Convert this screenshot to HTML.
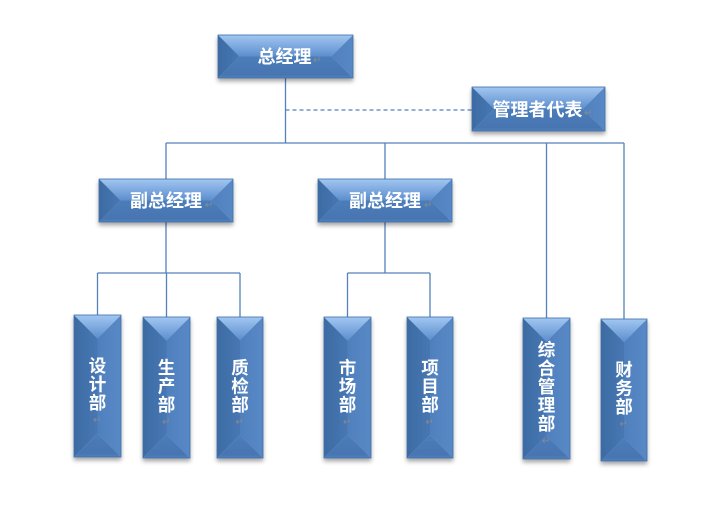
<!DOCTYPE html>
<html>
<head>
<meta charset="utf-8">
<style>
html,body{margin:0;padding:0;background:#fff;}
svg{display:block;}
.t{font-family:"Liberation Sans","Noto Sans CJK SC",sans-serif;font-weight:bold;fill:#fff;text-anchor:middle;}
.h{font-size:18px;}
.v{font-size:17.5px;}
.m{font-family:"DejaVu Sans",sans-serif;font-size:10px;fill:#8a8a8a;}
</style>
</head>
<body>
<svg width="712" height="515" viewBox="0 0 712 515" xmlns="http://www.w3.org/2000/svg">
<defs>
  <filter id="sh" x="-20%" y="-20%" width="140%" height="140%">
    <feDropShadow dx="0" dy="3" stdDeviation="2" flood-color="#000" flood-opacity="0.35"/>
  </filter>
  <linearGradient id="gt" x1="0" y1="0" x2="0" y2="1">
    <stop offset="0" stop-color="#a2c7f2"/>
    <stop offset="1" stop-color="#5c8ecd"/>
  </linearGradient>
  <linearGradient id="gl" x1="0" y1="0" x2="1" y2="0">
    <stop offset="0" stop-color="#3d6ba3"/>
    <stop offset="1" stop-color="#4777b3"/>
  </linearGradient>
  <linearGradient id="gr" x1="0" y1="0" x2="1" y2="0">
    <stop offset="0" stop-color="#4f80bd"/>
    <stop offset="1" stop-color="#5889c6"/>
  </linearGradient>
  <linearGradient id="gb" x1="0" y1="0" x2="0" y2="1">
    <stop offset="0" stop-color="#4c7dba"/>
    <stop offset="0.85" stop-color="#4675b1"/>
    <stop offset="1" stop-color="#5283c0"/>
  </linearGradient>
</defs>

<!-- connectors -->
<g stroke="#5581bb" stroke-width="1.3" fill="none">
  <line x1="285.5" y1="78" x2="285.5" y2="143"/>
  <line x1="166" y1="143" x2="624" y2="143"/>
  <line x1="166" y1="143" x2="166" y2="179"/>
  <line x1="385" y1="143" x2="385" y2="179"/>
  <line x1="546.5" y1="143" x2="546.5" y2="318"/>
  <line x1="624" y1="143" x2="624" y2="319"/>
  <line x1="166" y1="222" x2="166" y2="273"/>
  <line x1="97.5" y1="273" x2="240" y2="273"/>
  <line x1="97.5" y1="273" x2="97.5" y2="315"/>
  <line x1="166.5" y1="273" x2="166.5" y2="317"/>
  <line x1="240" y1="273" x2="240" y2="317"/>
  <line x1="385" y1="222" x2="385" y2="273"/>
  <line x1="347.5" y1="273" x2="430" y2="273"/>
  <line x1="347.5" y1="273" x2="347.5" y2="317"/>
  <line x1="430" y1="273" x2="430" y2="317"/>
  <line x1="285.5" y1="110" x2="472" y2="110" stroke-dasharray="4 3"/>
</g>

<!-- 总经理 -->
<g filter="url(#sh)">
  <polygon points="218,78 353,78 331.5,56.5 239.5,56.5" fill="url(#gb)"/>
  <polygon points="218,35 353,35 331.5,56.5 239.5,56.5" fill="url(#gt)"/>
  <polygon points="218,35 239.5,56.5 218,78" fill="url(#gl)"/>
  <polygon points="353,35 331.5,56.5 353,78" fill="url(#gr)"/>
  <rect x="218" y="35" width="135" height="43" fill="none" stroke="#406fa8" stroke-width="0.8"/>
</g>
<text class="t h" x="284.5" y="63">总经理</text>
<text class="m" x="313" y="63">↵</text>

<!-- 管理者代表 -->
<g filter="url(#sh)">
  <polygon points="472,131 605,131 583,109 494,109" fill="url(#gb)"/>
  <polygon points="472,87 605,87 583,109 494,109" fill="url(#gt)"/>
  <polygon points="472,87 494,109 472,131" fill="url(#gl)"/>
  <polygon points="605,87 583,109 605,131" fill="url(#gr)"/>
  <rect x="472" y="87" width="133" height="44" fill="none" stroke="#406fa8" stroke-width="0.8"/>
</g>
<text class="t h" x="537.5" y="116">管理者代表</text>
<text class="m" x="584" y="116">↵</text>

<!-- 副总经理 1 -->
<g filter="url(#sh)">
  <polygon points="99,222 233,222 211.5,200.5 120.5,200.5" fill="url(#gb)"/>
  <polygon points="99,179 233,179 211.5,200.5 120.5,200.5" fill="url(#gt)"/>
  <polygon points="99,179 120.5,200.5 99,222" fill="url(#gl)"/>
  <polygon points="233,179 211.5,200.5 233,222" fill="url(#gr)"/>
  <rect x="99" y="179" width="134" height="43" fill="none" stroke="#406fa8" stroke-width="0.8"/>
</g>
<text class="t h" x="166" y="207">副总经理</text>
<text class="m" x="205" y="208">↵</text>

<!-- 副总经理 2 -->
<g filter="url(#sh)">
  <polygon points="318,222 452,222 430.5,200.5 339.5,200.5" fill="url(#gb)"/>
  <polygon points="318,179 452,179 430.5,200.5 339.5,200.5" fill="url(#gt)"/>
  <polygon points="318,179 339.5,200.5 318,222" fill="url(#gl)"/>
  <polygon points="452,179 430.5,200.5 452,222" fill="url(#gr)"/>
  <rect x="318" y="179" width="134" height="43" fill="none" stroke="#406fa8" stroke-width="0.8"/>
</g>
<text class="t h" x="385" y="207">副总经理</text>
<text class="m" x="424" y="208">↵</text>

<!-- 设计部 -->
<g filter="url(#sh)">
  <polygon points="74,315 97.5,338.5 97.5,433.5 74,457" fill="url(#gl)"/>
  <polygon points="121,315 97.5,338.5 97.5,433.5 121,457" fill="url(#gr)"/>
  <polygon points="74,315 121,315 97.5,338.5" fill="url(#gt)"/>
  <polygon points="74,457 121,457 97.5,433.5" fill="url(#gb)"/>
  <rect x="74" y="315" width="47" height="142" fill="none" stroke="#406fa8" stroke-width="0.8"/>
</g>
<text class="t v" x="97.5" y="372">设</text>
<text class="t v" x="97.5" y="390.5">计</text>
<text class="t v" x="97.5" y="409">部</text>
<text class="m" x="93" y="423">↵</text>

<!-- 生产部 -->
<g filter="url(#sh)">
  <polygon points="143,317 166.5,340.5 166.5,434.5 143,458" fill="url(#gl)"/>
  <polygon points="190,317 166.5,340.5 166.5,434.5 190,458" fill="url(#gr)"/>
  <polygon points="143,317 190,317 166.5,340.5" fill="url(#gt)"/>
  <polygon points="143,458 190,458 166.5,434.5" fill="url(#gb)"/>
  <rect x="143" y="317" width="47" height="141" fill="none" stroke="#406fa8" stroke-width="0.8"/>
</g>
<text class="t v" x="166.5" y="374">生</text>
<text class="t v" x="166.5" y="392.5">产</text>
<text class="t v" x="166.5" y="411">部</text>
<text class="m" x="162" y="425">↵</text>

<!-- 质检部 -->
<g filter="url(#sh)">
  <polygon points="217,317 240,340 240,435 217,458" fill="url(#gl)"/>
  <polygon points="263,317 240,340 240,435 263,458" fill="url(#gr)"/>
  <polygon points="217,317 263,317 240,340" fill="url(#gt)"/>
  <polygon points="217,458 263,458 240,435" fill="url(#gb)"/>
  <rect x="217" y="317" width="46" height="141" fill="none" stroke="#406fa8" stroke-width="0.8"/>
</g>
<text class="t v" x="240" y="374">质</text>
<text class="t v" x="240" y="392.5">检</text>
<text class="t v" x="240" y="411">部</text>
<text class="m" x="235.5" y="425">↵</text>

<!-- 市场部 -->
<g filter="url(#sh)">
  <polygon points="324,317 347.5,340.5 347.5,434.5 324,458" fill="url(#gl)"/>
  <polygon points="371,317 347.5,340.5 347.5,434.5 371,458" fill="url(#gr)"/>
  <polygon points="324,317 371,317 347.5,340.5" fill="url(#gt)"/>
  <polygon points="324,458 371,458 347.5,434.5" fill="url(#gb)"/>
  <rect x="324" y="317" width="47" height="141" fill="none" stroke="#406fa8" stroke-width="0.8"/>
</g>
<text class="t v" x="347.5" y="374">市</text>
<text class="t v" x="347.5" y="392.5">场</text>
<text class="t v" x="347.5" y="411">部</text>
<text class="m" x="343" y="425">↵</text>

<!-- 项目部 -->
<g filter="url(#sh)">
  <polygon points="407,317 430,340 430,435 407,458" fill="url(#gl)"/>
  <polygon points="453,317 430,340 430,435 453,458" fill="url(#gr)"/>
  <polygon points="407,317 453,317 430,340" fill="url(#gt)"/>
  <polygon points="407,458 453,458 430,435" fill="url(#gb)"/>
  <rect x="407" y="317" width="46" height="141" fill="none" stroke="#406fa8" stroke-width="0.8"/>
</g>
<text class="t v" x="430" y="374">项</text>
<text class="t v" x="430" y="392.5">目</text>
<text class="t v" x="430" y="411">部</text>
<text class="m" x="425.5" y="425">↵</text>

<!-- 综合管理部 -->
<g filter="url(#sh)">
  <polygon points="523,318 546.5,341.5 546.5,435.5 523,459" fill="url(#gl)"/>
  <polygon points="570,318 546.5,341.5 546.5,435.5 570,459" fill="url(#gr)"/>
  <polygon points="523,318 570,318 546.5,341.5" fill="url(#gt)"/>
  <polygon points="523,459 570,459 546.5,435.5" fill="url(#gb)"/>
  <rect x="523" y="318" width="47" height="141" fill="none" stroke="#406fa8" stroke-width="0.8"/>
</g>
<text class="t v" x="546.5" y="356">综</text>
<text class="t v" x="546.5" y="374.5">合</text>
<text class="t v" x="546.5" y="393">管</text>
<text class="t v" x="546.5" y="411.5">理</text>
<text class="t v" x="546.5" y="430">部</text>
<text class="m" x="542" y="444">↵</text>

<!-- 财务部 -->
<g filter="url(#sh)">
  <polygon points="601,319 624,342 624,438 601,461" fill="url(#gl)"/>
  <polygon points="647,319 624,342 624,438 647,461" fill="url(#gr)"/>
  <polygon points="601,319 647,319 624,342" fill="url(#gt)"/>
  <polygon points="601,461 647,461 624,438" fill="url(#gb)"/>
  <rect x="601" y="319" width="46" height="142" fill="none" stroke="#406fa8" stroke-width="0.8"/>
</g>
<text class="t v" x="624" y="376">财</text>
<text class="t v" x="624" y="394.5">务</text>
<text class="t v" x="624" y="413">部</text>
<text class="m" x="619.5" y="427">↵</text>
</svg>
</body>
</html>
